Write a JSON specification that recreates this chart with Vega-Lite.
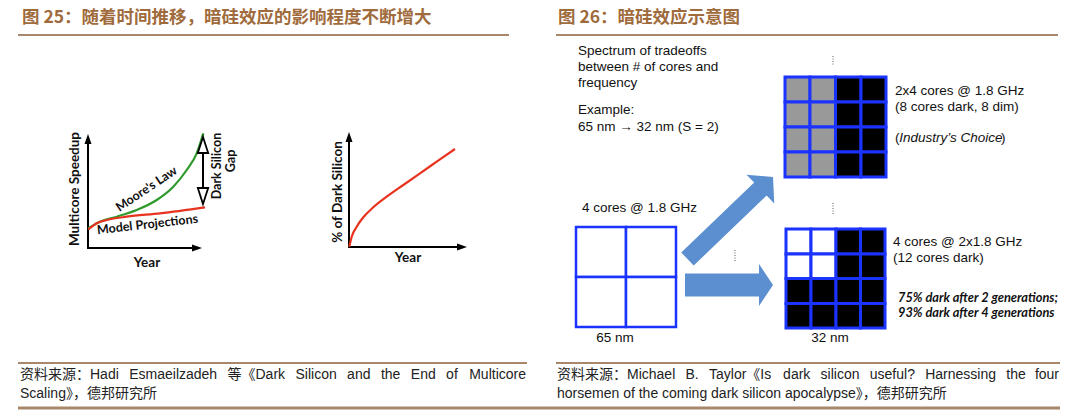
{
  "$schema": "https://vega.github.io/schema/vega-lite/v6.json",
  "width": 1080,
  "height": 420,
  "padding": 0,
  "autosize": {"type": "fit", "contains": "padding"},
  "background": "#ffffff",
  "config": {"view": {"stroke": null}},
  "datasets": {
    "headers": [
      {"x": 22, "y": 18, "text": "图 25：随着时间推移，暗硅效应的影响程度不断增大"},
      {"x": 558, "y": 18, "text": "图 26：暗硅效应示意图"}
    ],
    "hlines": [
      {"x": 18, "x2": 509, "y": 35, "y2": 35},
      {"x": 556, "x2": 1058, "y": 35, "y2": 35},
      {"x": 18, "x2": 527, "y": 363, "y2": 363},
      {"x": 556, "x2": 1060, "y": 363, "y2": 363}
    ],
    "blines": [
      {"x": 18, "x2": 1060, "y": 408, "y2": 408}
    ],
    "footers": [
      {"x": 20, "y": 375, "text": "资料来源：Hadi"},
      {"x": 129.2, "y": 375, "text": "Esmaeilzadeh"},
      {"x": 227.5, "y": 375, "text": "等《Dark"},
      {"x": 295.5, "y": 375, "text": "Silicon"},
      {"x": 347.1, "y": 375, "text": "and"},
      {"x": 380.9, "y": 375, "text": "the"},
      {"x": 410.8, "y": 375, "text": "End"},
      {"x": 446.1, "y": 375, "text": "of"},
      {"x": 20, "y": 394, "text": "Scaling》，德邦研究所"},
      {"x": 557, "y": 375, "text": "资料来源：Michael"},
      {"x": 685.5, "y": 375, "text": "B."},
      {"x": 709, "y": 375, "text": "Taylor《Is"},
      {"x": 783.1, "y": 375, "text": "dark"},
      {"x": 820.6, "y": 375, "text": "silicon"},
      {"x": 869.8, "y": 375, "text": "useful?"},
      {"x": 925.2, "y": 375, "text": "Harnessing"},
      {"x": 1006.3, "y": 375, "text": "the"},
      {"x": 557, "y": 394, "text": "horsemen of the coming dark silicon apocalypse》，德邦研究所"}
    ],
    "footersright": [
      {"x": 526, "y": 375, "text": "Multicore"},
      {"x": 1059, "y": 375, "text": "four"}
    ],
    "axes": [
      {"x": 88, "x2": 88, "y": 249, "y2": 142},
      {"x": 87, "x2": 194, "y": 248, "y2": 248},
      {"x": 349, "x2": 349, "y": 248, "y2": 140},
      {"x": 348, "x2": 459, "y": 247, "y2": 247},
      {"x": 203, "x2": 203, "y": 150, "y2": 190}
    ],
    "upheads": [
      {"x": 88, "y": 139},
      {"x": 349, "y": 137}
    ],
    "rightheads": [
      {"x": 197, "y": 248},
      {"x": 462, "y": 247}
    ],
    "gaptop": [{"x": 203, "y": 145}],
    "gapbottom": [{"x": 203, "y": 196}],
    "curves": [
      {"s": "moore", "x": 88.3, "y": 228.3},
      {"s": "moore", "x": 100, "y": 221.7},
      {"s": "moore", "x": 116.7, "y": 216.7},
      {"s": "moore", "x": 136.7, "y": 210},
      {"s": "moore", "x": 156.7, "y": 200},
      {"s": "moore", "x": 173.3, "y": 186.7},
      {"s": "moore", "x": 186.7, "y": 170},
      {"s": "moore", "x": 196.7, "y": 153.3},
      {"s": "moore", "x": 203.3, "y": 133.3},
      {"s": "model", "x": 88.3, "y": 229.5},
      {"s": "model", "x": 96.7, "y": 223.3},
      {"s": "model", "x": 110, "y": 219.3},
      {"s": "model", "x": 126.7, "y": 216.7},
      {"s": "model", "x": 160, "y": 213.3},
      {"s": "model", "x": 205, "y": 207.3},
      {"s": "dark", "x": 349.3, "y": 246.7},
      {"s": "dark", "x": 351.7, "y": 236.7},
      {"s": "dark", "x": 356.7, "y": 226.7},
      {"s": "dark", "x": 363.3, "y": 217.3},
      {"s": "dark", "x": 373.3, "y": 207.3},
      {"s": "dark", "x": 386.7, "y": 196.7},
      {"s": "dark", "x": 403.3, "y": 185},
      {"s": "dark", "x": 420, "y": 173.3},
      {"s": "dark", "x": 436.7, "y": 161.7},
      {"s": "dark", "x": 455, "y": 149}
    ],
    "vlabels": [
      {"x": 75, "y": 189, "text": "Multicore Speedup"},
      {"x": 338, "y": 192, "text": "% of Dark Silicon"}
    ],
    "gaplabels": [
      {"x": 216.5, "y": 166, "text": "Dark Silicon"},
      {"x": 230.5, "y": 161, "text": "Gap"}
    ],
    "years": [
      {"x": 147, "y": 263, "text": "Year"},
      {"x": 408, "y": 258, "text": "Year"}
    ],
    "moorelabel": [{"x": 146.5, "y": 189, "text": "Moore's Law"}],
    "modellabel": [{"x": 147.5, "y": 224.5, "text": "Model Projections"}],
    "cells": [
      {"x": 785, "x2": 810, "y": 77, "y2": 102, "state": "dim"},
      {"x": 810, "x2": 835.5, "y": 77, "y2": 102, "state": "dim"},
      {"x": 835.5, "x2": 861, "y": 77, "y2": 102, "state": "dark"},
      {"x": 861, "x2": 886, "y": 77, "y2": 102, "state": "dark"},
      {"x": 785, "x2": 810, "y": 102, "y2": 127, "state": "dim"},
      {"x": 810, "x2": 835.5, "y": 102, "y2": 127, "state": "dim"},
      {"x": 835.5, "x2": 861, "y": 102, "y2": 127, "state": "dark"},
      {"x": 861, "x2": 886, "y": 102, "y2": 127, "state": "dark"},
      {"x": 785, "x2": 810, "y": 127, "y2": 152, "state": "dim"},
      {"x": 810, "x2": 835.5, "y": 127, "y2": 152, "state": "dim"},
      {"x": 835.5, "x2": 861, "y": 127, "y2": 152, "state": "dark"},
      {"x": 861, "x2": 886, "y": 127, "y2": 152, "state": "dark"},
      {"x": 785, "x2": 810, "y": 152, "y2": 177, "state": "dim"},
      {"x": 810, "x2": 835.5, "y": 152, "y2": 177, "state": "dim"},
      {"x": 835.5, "x2": 861, "y": 152, "y2": 177, "state": "dark"},
      {"x": 861, "x2": 886, "y": 152, "y2": 177, "state": "dark"},
      {"x": 786, "x2": 811, "y": 229, "y2": 254, "state": "lit"},
      {"x": 811, "x2": 836, "y": 229, "y2": 254, "state": "lit"},
      {"x": 836, "x2": 860.5, "y": 229, "y2": 254, "state": "dark"},
      {"x": 860.5, "x2": 885, "y": 229, "y2": 254, "state": "dark"},
      {"x": 786, "x2": 811, "y": 254, "y2": 278.5, "state": "lit"},
      {"x": 811, "x2": 836, "y": 254, "y2": 278.5, "state": "lit"},
      {"x": 836, "x2": 860.5, "y": 254, "y2": 278.5, "state": "dark"},
      {"x": 860.5, "x2": 885, "y": 254, "y2": 278.5, "state": "dark"},
      {"x": 786, "x2": 811, "y": 278.5, "y2": 303.5, "state": "dark"},
      {"x": 811, "x2": 836, "y": 278.5, "y2": 303.5, "state": "dark"},
      {"x": 836, "x2": 860.5, "y": 278.5, "y2": 303.5, "state": "dark"},
      {"x": 860.5, "x2": 885, "y": 278.5, "y2": 303.5, "state": "dark"},
      {"x": 786, "x2": 811, "y": 303.5, "y2": 328, "state": "dark"},
      {"x": 811, "x2": 836, "y": 303.5, "y2": 328, "state": "dark"},
      {"x": 836, "x2": 860.5, "y": 303.5, "y2": 328, "state": "dark"},
      {"x": 860.5, "x2": 885, "y": 303.5, "y2": 328, "state": "dark"}
    ],
    "bigcells": [
      {"x": 576, "x2": 626, "y": 227, "y2": 277, "state": "lit"},
      {"x": 626, "x2": 676, "y": 227, "y2": 277, "state": "lit"},
      {"x": 576, "x2": 626, "y": 277, "y2": 327, "state": "lit"},
      {"x": 626, "x2": 676, "y": 277, "y2": 327, "state": "lit"}
    ],
    "diagarrow": [{"x": 730.25, "y": 218}],
    "horizarrow": [{"x": 729, "y": 285}],
    "dots": [
      {"x": 833, "x2": 833, "y": 56, "y2": 66},
      {"x": 833, "x2": 833, "y": 203, "y2": 215},
      {"x": 735, "x2": 735, "y": 250, "y2": 262}
    ],
    "rtexts": [
      {"x": 578, "y": 51, "text": "Spectrum of tradeoffs"},
      {"x": 578, "y": 67, "text": "between # of cores and"},
      {"x": 578, "y": 83, "text": "frequency"},
      {"x": 578, "y": 110, "text": "Example:"},
      {"x": 578, "y": 127, "text": "65 nm → 32 nm (S = 2)"},
      {"x": 895, "y": 91, "text": "2x4 cores @ 1.8 GHz"},
      {"x": 895, "y": 107, "text": "(8 cores dark, 8 dim)"},
      {"x": 895, "y": 138, "text": "("},
      {"x": 1001, "y": 138, "text": ")"},
      {"x": 582, "y": 208, "text": "4 cores @ 1.8 GHz"},
      {"x": 893, "y": 242, "text": "4 cores @ 2x1.8 GHz"},
      {"x": 893, "y": 258, "text": "(12 cores dark)"}
    ],
    "italic": [
      {"x": 899.3, "y": 138, "text": "Industry’s Choice"}
    ],
    "ctexts": [
      {"x": 615, "y": 338, "text": "65 nm"},
      {"x": 830, "y": 338, "text": "32 nm"}
    ],
    "bitexts": [
      {"x": 898, "y": 298, "text": "75% dark after 2 generations;"},
      {"x": 898, "y": 313, "text": "93% dark after 4 generations"}
    ]
  },
  "encoding": {
    "x": {"field": "x", "type": "quantitative", "scale": {"domain": [0, 1080], "nice": false, "zero": false}, "axis": null},
    "y": {"field": "y", "type": "quantitative", "scale": {"domain": [0, 420], "nice": false, "zero": false, "reverse": true}, "axis": null}
  },
  "layer": [
    {
      "data": {"name": "headers"},
      "mark": {"type": "text", "align": "left", "baseline": "middle", "font": "Noto Sans CJK SC", "fontWeight": "bold", "fontSize": 17.5, "color": "#9f6b3c"},
      "encoding": {"text": {"field": "text"}}
    },
    {
      "data": {"name": "hlines"},
      "mark": {"type": "rule", "color": "#a8876a", "strokeWidth": 2},
      "encoding": {"x2": {"field": "x2"}, "y2": {"field": "y2"}}
    },
    {
      "data": {"name": "blines"},
      "mark": {"type": "rule", "color": "#a8876a", "strokeWidth": 3},
      "encoding": {"x2": {"field": "x2"}, "y2": {"field": "y2"}}
    },
    {
      "data": {"name": "footers"},
      "mark": {"type": "text", "align": "left", "baseline": "middle", "font": "Liberation Sans, Noto Sans CJK SC, sans-serif", "fontSize": 14, "color": "#222222"},
      "encoding": {"text": {"field": "text"}}
    },
    {
      "data": {"name": "footersright"},
      "mark": {"type": "text", "align": "right", "baseline": "middle", "font": "Liberation Sans, Noto Sans CJK SC, sans-serif", "fontSize": 14, "color": "#222222"},
      "encoding": {"text": {"field": "text"}}
    },
    {
      "data": {"name": "axes"},
      "mark": {"type": "rule", "color": "#000000", "strokeWidth": 2},
      "encoding": {"x2": {"field": "x2"}, "y2": {"field": "y2"}}
    },
    {
      "data": {"name": "upheads"},
      "mark": {"type": "point", "shape": "M0,-1L0.7,1L-0.7,1Z", "size": 100, "filled": true, "opacity": 1, "color": "#000000"}
    },
    {
      "data": {"name": "rightheads"},
      "mark": {"type": "point", "shape": "M1,0L-1,-0.7L-1,0.7Z", "size": 100, "filled": true, "opacity": 1, "color": "#000000"}
    },
    {
      "data": {"name": "curves"},
      "mark": {"type": "line", "strokeWidth": 2.2, "interpolate": "monotone"},
      "encoding": {
        "stroke": {"field": "s", "type": "nominal", "scale": {"domain": ["moore", "model", "dark"], "range": ["#2f9a2c", "#e8331f", "#e8331f"]}, "legend": null}
      }
    },
    {
      "data": {"name": "gaptop"},
      "mark": {"type": "point", "shape": "M0,-1L0.65,1L-0.65,1Z", "size": 256, "filled": false, "fill": "#ffffff", "stroke": "#000000", "strokeWidth": 1.8, "opacity": 1}
    },
    {
      "data": {"name": "gapbottom"},
      "mark": {"type": "point", "shape": "M0,1L0.65,-1L-0.65,-1Z", "size": 256, "filled": false, "fill": "#ffffff", "stroke": "#000000", "strokeWidth": 1.8, "opacity": 1}
    },
    {
      "data": {"name": "vlabels"},
      "mark": {"type": "text", "align": "center", "baseline": "middle", "angle": 270, "font": "Lato", "fontWeight": "bold", "fontSize": 13.5, "color": "#111111"},
      "encoding": {"text": {"field": "text"}}
    },
    {
      "data": {"name": "gaplabels"},
      "mark": {"type": "text", "align": "center", "baseline": "middle", "angle": 270, "font": "Lato", "fontWeight": "bold", "fontSize": 12.5, "color": "#111111"},
      "encoding": {"text": {"field": "text"}}
    },
    {
      "data": {"name": "years"},
      "mark": {"type": "text", "align": "center", "baseline": "middle", "font": "Lato", "fontWeight": "bold", "fontSize": 13.5, "color": "#111111"},
      "encoding": {"text": {"field": "text"}}
    },
    {
      "data": {"name": "moorelabel"},
      "mark": {"type": "text", "align": "center", "baseline": "middle", "angle": 326, "font": "Lato", "fontWeight": "bold", "fontSize": 12.5, "color": "#111111"},
      "encoding": {"text": {"field": "text"}}
    },
    {
      "data": {"name": "modellabel"},
      "mark": {"type": "text", "align": "center", "baseline": "middle", "angle": 353.5, "font": "Lato", "fontWeight": "bold", "fontSize": 12.5, "color": "#111111"},
      "encoding": {"text": {"field": "text"}}
    },
    {
      "data": {"name": "bigcells"},
      "mark": {"type": "rect", "stroke": "#1a33ff", "strokeWidth": 2.5},
      "encoding": {
        "x2": {"field": "x2"}, "y2": {"field": "y2"},
        "fill": {"field": "state", "type": "nominal", "scale": {"domain": ["dim", "dark", "lit"], "range": ["#999999", "#000000", "#ffffff"]}, "legend": null}
      }
    },
    {
      "data": {"name": "cells"},
      "mark": {"type": "rect", "stroke": "#1a33ff", "strokeWidth": 3},
      "encoding": {
        "x2": {"field": "x2"}, "y2": {"field": "y2"},
        "fill": {"field": "state", "type": "nominal", "scale": {"domain": ["dim", "dark", "lit"], "range": ["#999999", "#000000", "#ffffff"]}, "legend": null}
      }
    },
    {
      "data": {"name": "diagarrow"},
      "mark": {"type": "point", "shape": "M-1,-0.152L0.705,-0.152L0.705,-0.338L1,0L0.705,0.338L0.705,0.152L-1,0.152Z", "size": 14042, "angle": 316.2, "filled": true, "opacity": 1, "color": "#5b8fd0"}
    },
    {
      "data": {"name": "horizarrow"},
      "mark": {"type": "point", "shape": "M-1,-0.261L0.682,-0.261L0.682,-0.477L1,0L0.682,0.477L0.682,0.261L-1,0.261Z", "size": 7744, "filled": true, "opacity": 1, "color": "#5b8fd0"}
    },
    {
      "data": {"name": "dots"},
      "mark": {"type": "rule", "color": "#777777", "strokeWidth": 1.2, "strokeDash": [1, 1.5]},
      "encoding": {"x2": {"field": "x2"}, "y2": {"field": "y2"}}
    },
    {
      "data": {"name": "rtexts"},
      "mark": {"type": "text", "align": "left", "baseline": "middle", "font": "Liberation Sans, Arial, sans-serif", "fontSize": 13.5, "color": "#111111"},
      "encoding": {"text": {"field": "text"}}
    },
    {
      "data": {"name": "italic"},
      "mark": {"type": "text", "align": "left", "baseline": "middle", "font": "Liberation Sans, Arial, sans-serif", "fontStyle": "italic", "fontSize": 13.5, "color": "#111111"},
      "encoding": {"text": {"field": "text"}}
    },
    {
      "data": {"name": "ctexts"},
      "mark": {"type": "text", "align": "center", "baseline": "middle", "font": "Liberation Sans, Arial, sans-serif", "fontSize": 13.5, "color": "#111111"},
      "encoding": {"text": {"field": "text"}}
    },
    {
      "data": {"name": "bitexts"},
      "mark": {"type": "text", "align": "left", "baseline": "middle", "font": "Lato", "fontStyle": "italic", "fontWeight": "bold", "fontSize": 12.8, "color": "#111111"},
      "encoding": {"text": {"field": "text"}}
    }
  ]
}
